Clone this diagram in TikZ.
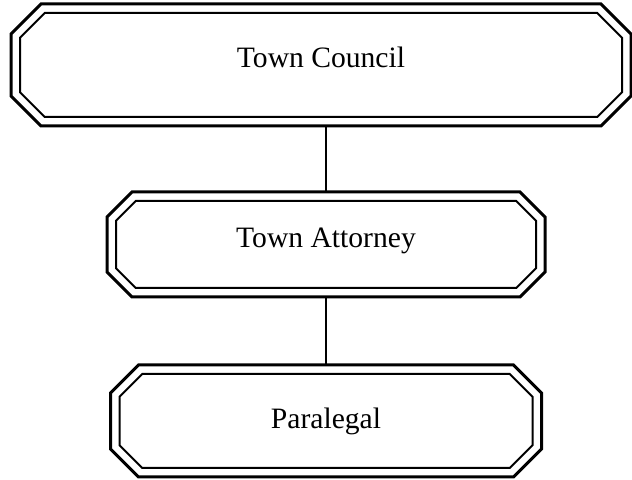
\documentclass[tikz,border=0pt]{standalone}
\usepackage{fontspec}
\setmainfont{Liberation Serif}
\usetikzlibrary{positioning}

\begin{document}
\begin{tikzpicture}[x=0.5pt,y=-0.5pt,font=\fontsize{14.8pt}{17pt}\selectfont,
  orgbox/.style={rectangle,inner sep=0pt,outer sep=0pt,align=center},
  % octagon round a node: #1 node, #2 corner cut, #3 inset
  octo/.style n args={3}{insert path={
    ([xshift=#3,yshift=-#2]#1.north west) -- ([xshift=#2,yshift=-#3]#1.north west)
    -- ([xshift=-#2,yshift=-#3]#1.north east) -- ([xshift=-#3,yshift=-#2]#1.north east)
    -- ([xshift=-#3,yshift=#2]#1.south east) -- ([xshift=-#2,yshift=#3]#1.south east)
    -- ([xshift=#2,yshift=#3]#1.south west) -- ([xshift=#3,yshift=#2]#1.south west) -- cycle}},
  outerframe/.style={line width=1.5pt},
  innerframe/.style={line width=1pt},
  link/.style={line width=1.1pt}]
  \useasboundingbox (0,0) rectangle (632,480);
  \node[orgbox,minimum width=310pt,minimum height=61pt,text depth=8pt](council) at (321,65) {Town Council};
  \node[orgbox,below=33pt of council,xshift=2.5pt,minimum width=219pt,minimum height=52.5pt,text depth=7pt](attorney) {Town Attorney};
  \node[orgbox,below=34pt of attorney,minimum width=215.5pt,minimum height=56pt](paralegal) {Paralegal};
  \foreach \n/\c/\k in {council/15pt/16.9pt,attorney/12.5pt/14.4pt,paralegal/14pt/15.9pt}{
    \draw[outerframe,octo={\n}{\c}{0pt}];
    \draw[innerframe,octo={\n}{\k}{4.5pt}];
  }
  \draw[link] (attorney.north) -- (attorney.north |- council.south);
  \draw[link] (paralegal.north) -- (paralegal.north |- attorney.south);
\end{tikzpicture}
\end{document}
